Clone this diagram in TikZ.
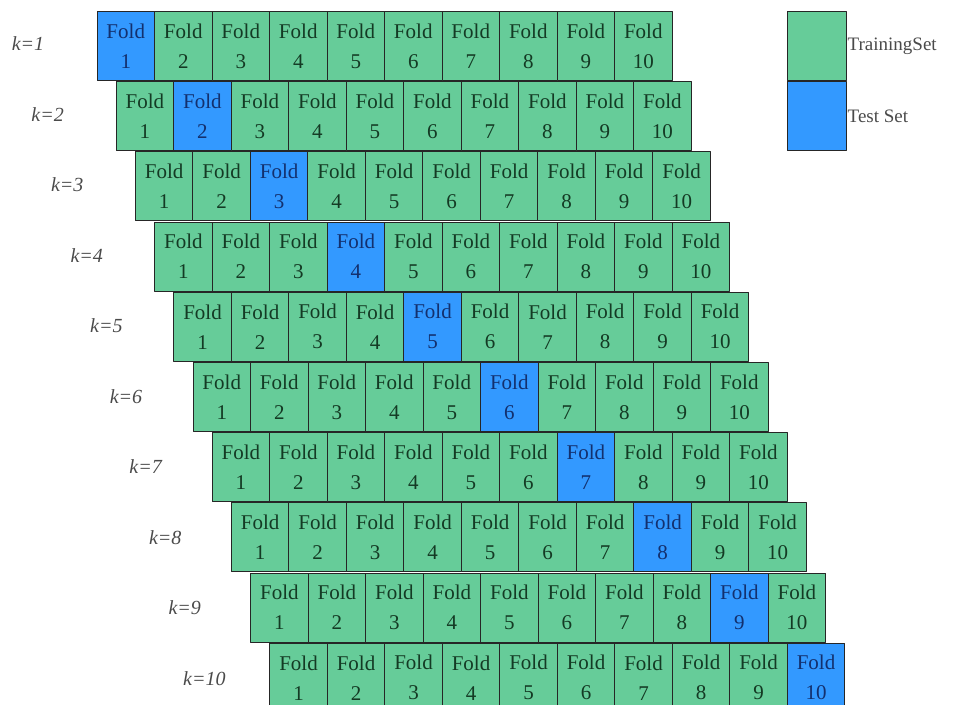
\documentclass[tikz,border=0pt]{standalone}
\usepackage{fontspec}
\setmainfont{Liberation Serif}
\usepackage{tikz}
\usetikzlibrary{positioning}
\definecolor{train}{HTML}{66CC99}
\definecolor{test}{HTML}{3399FF}
\definecolor{traintext}{HTML}{143A24}
\definecolor{testtext}{HTML}{13306E}
\definecolor{labelgray}{HTML}{4A4A4A}
\tikzset{
  every picture/.style={
    line join=round,
    line cap=round,
  },
  fold/.style={draw=black!85, line width=1pt, minimum width=57.5pt,
    minimum height=69pt, inner sep=0pt, align=center,
    font=\fontsize{21}{30}\selectfont},
  trainfold/.style={fold, fill=train, text=traintext},
  testfold/.style={fold, fill=test, text=testtext},
  klabel/.style={font=\fontsize{20}{22}\selectfont\itshape, text=labelgray},
  legendbox/.style={draw=black!85, line width=1pt, minimum width=59pt,
    minimum height=69pt, inner sep=0pt},
  legendtext/.style={anchor=west, inner sep=1pt, font=\fontsize{19}{22}\selectfont, text=labelgray},
}

\begin{document}
\begin{tikzpicture}[x=1pt, y=-1pt]
    \clip (0,0) rectangle (958,704);
    \useasboundingbox (0,0) rectangle (958,704);

    % Rows k=1..10, one test fold per row
    \foreach \k in {1,...,10} {
        \pgfmathsetmacro{\rowx}{97+(\k-1)*19.2}
        \pgfmathsetmacro{\rowy}{11.5+(\k-1)*70.2}
        \node[klabel] (k\k) at ({28+(\k-1)*19.6}, {44+(\k-1)*70.5}) {k=\k};
        \foreach \i in {1,...,10} {
            \ifnum\i=\k
                \node[testfold] (f\k-\i) at ({\rowx+(\i-0.5)*57.5}, {\rowy+34.5}) {Fold\\\i};
            \else
                \node[trainfold] (f\k-\i) at ({\rowx+(\i-0.5)*57.5}, {\rowy+34.5}) {Fold\\\i};
            \fi
        }
    }

    % Legend
    \node[legendbox, fill=train] (trainbox) at (816.5,46) {};
    \node[legendbox, fill=test, below=0pt of trainbox] (testbox) {};
    \node[legendtext] (trainlabel) at (trainbox.east) {TrainingSet};
    \node[legendtext] (testlabel) at (testbox.east) {Test Set};
\end{tikzpicture}
\end{document}
